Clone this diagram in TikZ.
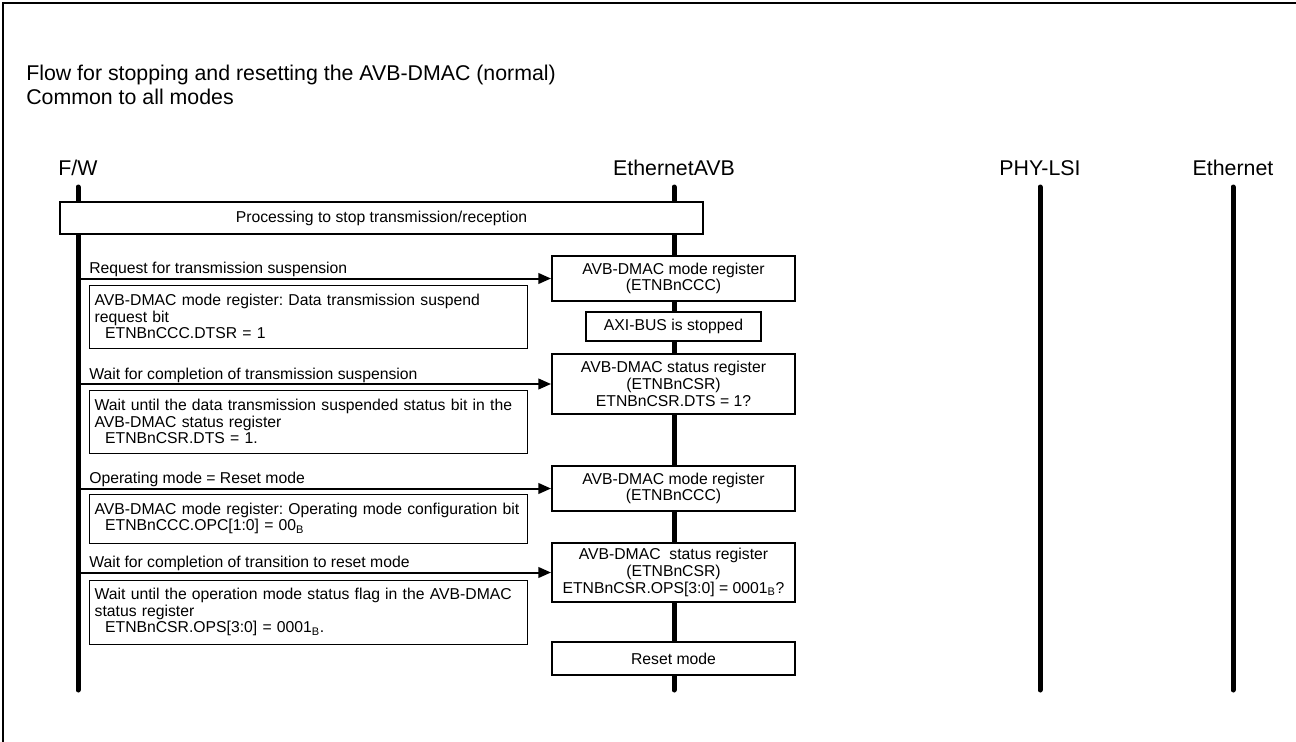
\documentclass[tikz,border=0pt]{standalone}
\usepackage{fontspec}
\setmainfont{Liberation Sans}
\usetikzlibrary{arrows.meta}

\tikzset{
  lifeline/.style={line width=3.75pt,line cap=round},
  head/.style={font=\fontsize{16}{18}\selectfont,inner sep=0pt},
  body/.style={font=\fontsize{11.8}{12.5}\selectfont},
  regbox/.style={body,draw,line width=1.5pt,fill=white,align=center,
    minimum width=182.25pt,inner sep=0pt},
  notebox/.style={body,draw,line width=0.75pt,fill=white,align=left,
    text width=320pt,inner xsep=4.25pt,inner ysep=0pt,minimum width=328.5pt},
  msg/.style={line width=1.5pt,-{Triangle[length=9.5pt,width=8pt]}},
  lbl/.style={body,anchor=base west,inner sep=0pt}
}
\newcommand{\FLlife}[3]{\coordinate (#1top) at (#2,187);\coordinate (#1bot) at (#2,690);
  \draw[lifeline] (#1top) -- (#1bot);
  \node[head,anchor=base] (#1lbl) at (#2,175) {#3};}

\begin{document}
\begin{tikzpicture}[x=0.75pt,y=-0.75pt]
  \useasboundingbox (0,0) rectangle (1296,742);
  \draw[line width=2pt] (1296,3) -- (3,3) -- (3,742);
  \node[head,anchor=base west] (title1) at (26,80) {Flow for stopping and resetting the AVB-DMAC (normal)};
  \node[head,anchor=base west] (title2) at (26,104) {Common to all modes};
  \foreach\n/\x/\t in{fw/78/{F/W},avb/674/EthernetAVB,phy/1040/PHY-LSI,eth/1233/Ethernet}{\FLlife{\n}{\x}{\t}}

  \node[body,draw,line width=1.5pt,fill=white,minimum width=482.25pt,minimum height=24pt] (proc) at (381.5,218) {Processing to stop transmission/reception};

  \node[regbox,minimum height=33.75pt] (mode1) at (673.5,278.5) {AVB-DMAC mode register\\(ETNBnCCC)};
  \node[regbox,minimum width=131.25pt,minimum height=21.75pt] (axi) at (673.5,326.5) {AXI-BUS is stopped};
  \node[regbox,minimum height=45pt] (stat1) at (673.5,384) {AVB-DMAC status register\\(ETNBnCSR)\\ETNBnCSR.DTS = 1?};
  \node[regbox,minimum height=33.75pt] (mode2) at (673.5,488.5) {AVB-DMAC mode register\\(ETNBnCCC)};
  \node[regbox,minimum height=44.25pt] (stat2) at (673.5,572.5) {AVB-DMAC\ \ status register\\(ETNBnCSR)\\ETNBnCSR.OPS[3:0] = 0001\textsubscript{B}?};
  \node[regbox,minimum height=24.75pt] (reset) at (673.5,658.5) {Reset mode};

  \node[notebox,minimum height=47.25pt] (note1) at (308,316.5) {AVB-DMAC mode register:\ Data transmission suspend\\request bit\\\ \ ETNBnCCC.DTSR = 1};
  \node[notebox,minimum height=47.25pt] (note2) at (308,421.5) {Wait until the data transmission suspended status bit in the\\AVB-DMAC status register\\\ \ ETNBnCSR.DTS = 1.};
  \node[notebox,minimum height=36.75pt] (note3) at (308,518.5) {AVB-DMAC mode register:\ Operating mode configuration bit\\\ \ ETNBnCCC.OPC[1:0] = 00\textsubscript{B}};
  \node[notebox,minimum height=48pt] (note4) at (308,612) {Wait until the operation mode status flag in the AVB-DMAC\\status register\\\ \ ETNBnCSR.OPS[3:0] = 0001\textsubscript{B}.};

  \foreach\b in{mode1,stat1,mode2,stat2}{\draw[msg] (fwtop|-\b.west) -- (\b.west);}
  \node[lbl] (l1) at (89,273) {Request for transmission suspension};
  \node[lbl] (l2) at (89,379) {Wait for completion of transmission suspension};
  \node[lbl] (l3) at (89,483) {Operating mode = Reset mode};
  \node[lbl] (l4) at (89,567) {Wait for completion of transition to reset mode};
\end{tikzpicture}
\end{document}
